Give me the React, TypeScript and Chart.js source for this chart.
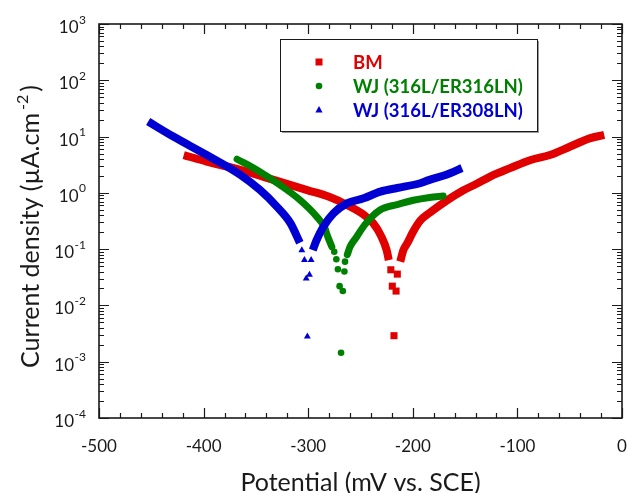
import React, { useEffect, useRef } from 'react';
import { Chart, registerables } from 'chart.js';

Chart.register(...registerables);

// ---------- data (potential in mV vs SCE, current density in µA/cm²) ----------
const seriesNames = ['BM', 'WJ (316L/ER316LN)', 'WJ (316L/ER308LN)'];

const bmCathodic: [number, number][] = [
  [-419, 4.7], [-397, 3.6], [-365, 2.55], [-333, 1.7], [-301, 1.12], [-280, 0.85],
  [-263, 0.61], [-247, 0.41], [-238, 0.29], [-230, 0.167], [-225, 0.096], [-223, 0.064],
];
const bmTip: [number, number][] = [
  [-221, 0.043], [-219.6, 0.022], [-216, 0.018], [-214.8, 0.036], [-218, 0.0029],
];
const bmAnodic: [number, number][] = [
  [-212, 0.06], [-209, 0.096], [-205, 0.13], [-200, 0.2], [-193, 0.32], [-184, 0.44],
  [-168, 0.72], [-152, 1.1], [-139, 1.45], [-126, 1.95], [-107, 2.75], [-88, 3.8],
  [-69, 4.7], [-50, 6.6], [-31, 9.3], [-17, 10.7],
];

const wj316Cathodic: [number, number][] = [
  [-368, 3.96], [-349, 2.55], [-327, 1.38], [-308, 0.75], [-292, 0.38], [-284, 0.235],
  [-282, 0.18], [-277.4, 0.11],
];
const wj316Tip: [number, number][] = [
  [-275.1, 0.09], [-273.1, 0.066], [-271.6, 0.044], [-270, 0.022], [-266.9, 0.018],
  [-265.4, 0.04], [-264.8, 0.06], [-268.6, 0.00144],
];
const wj316Anodic: [number, number][] = [
  [-262.6, 0.08], [-260, 0.11], [-253.6, 0.166], [-246, 0.27], [-231, 0.5], [-215, 0.62],
  [-199.5, 0.74], [-184, 0.83], [-171, 0.88],
];

const wj308Cathodic: [number, number][] = [
  [-453, 18.5], [-429, 10], [-397, 4.7], [-365, 2.1], [-346, 1.12], [-330, 0.57],
  [-317, 0.29], [-308, 0.13],
];
const wj308Tip: [number, number][] = [
  [-306.1, 0.096], [-303.6, 0.064], [-301.9, 0.03], [-298.8, 0.035], [-297.2, 0.064],
  [-300.8, 0.0028],
];
const wj308Anodic: [number, number][] = [
  [-295.6, 0.096], [-292, 0.145], [-285.5, 0.25], [-276, 0.43], [-263, 0.65], [-247, 0.8],
  [-231, 1.05], [-215, 1.22], [-193, 1.48], [-184, 1.7], [-168, 2.1], [-153, 2.76],
];

const xMajorTicks = [-500, -400, -300, -200, -100, 0];
const xMinorStep = 20;
const yExponents = [-4, -3, -2, -1, 0, 1, 2, 3];

const xTitle = 'Potential (mV vs. SCE)';
const yTitleMain = 'Current density (µA.cm';
const yTitleSup = '-2';
const yTitleEnd = ')';

// ---------- styles ----------
const RED = '#e00000';
const GREEN = '#008000';
const BLUE = '#0000d2';
const FONT = 'Lato, "Open Sans", sans-serif';

const toXY = (arr: [number, number][]) => arr.map(([x, y]) => ({ x, y }));

function lineDs(data: [number, number][], color: string, width: number, cap: CanvasLineCap, order: number) {
  return {
    data: toXY(data),
    borderColor: color,
    backgroundColor: color,
    borderWidth: width,
    borderCapStyle: cap,
    borderJoinStyle: 'round' as CanvasLineJoin,
    pointRadius: 0,
    showLine: true,
    cubicInterpolationMode: 'monotone' as const,
    order,
  };
}

function tipDs(data: [number, number][], color: string, style: string, radius: number, order: number) {
  return {
    data: toXY(data),
    borderColor: color,
    backgroundColor: color,
    pointBackgroundColor: color,
    pointBorderWidth: 0,
    pointStyle: style,
    pointRadius: radius,
    showLine: false,
    order,
  };
}

function drawMarker(ctx: CanvasRenderingContext2D, kind: string, x: number, y: number, color: string) {
  ctx.fillStyle = color;
  ctx.beginPath();
  if (kind === 'rect') {
    ctx.rect(x - 3.5, y - 3.5, 7, 7);
  } else if (kind === 'circle') {
    ctx.arc(x, y, 3.3, 0, Math.PI * 2);
  } else {
    ctx.moveTo(x, y - 4);
    ctx.lineTo(x + 3.6, y + 2.6);
    ctx.lineTo(x - 3.6, y + 2.6);
    ctx.closePath();
  }
  ctx.fill();
}

const decorPlugin = {
  id: 'decor',
  afterDatasetsDraw(chart: any) {
    const ctx: CanvasRenderingContext2D = chart.ctx;
    const { left, right, top, bottom } = chart.chartArea;
    const xs = chart.scales.x;
    const ys = chart.scales.y;
    ctx.save();

    // frame
    ctx.strokeStyle = '#1a1a1a';
    ctx.lineWidth = 1.6;
    ctx.strokeRect(left, top, right - left, bottom - top);

    // ticks
    ctx.lineWidth = 1.2;
    ctx.beginPath();
    const xMin = xMajorTicks[0];
    const xMax = xMajorTicks[xMajorTicks.length - 1];
    for (let v = xMin; v <= xMax; v += xMinorStep) {
      const px = Math.round(xs.getPixelForValue(v)) + 0.5;
      const len = xMajorTicks.includes(v) ? 10 : 5;
      ctx.moveTo(px, bottom);
      ctx.lineTo(px, bottom - len);
      ctx.moveTo(px, top);
      ctx.lineTo(px, top + len);
    }
    for (let k = 0; k < yExponents.length; k++) {
      const d = yExponents[k];
      for (let m = 1; m <= 9; m++) {
        if (k === yExponents.length - 1 && m > 1) break;
        const py = Math.round(ys.getPixelForValue(m * Math.pow(10, d))) + 0.5;
        const len = m === 1 ? 10 : 5;
        ctx.moveTo(left, py);
        ctx.lineTo(left + len, py);
        ctx.moveTo(right, py);
        ctx.lineTo(right - len, py);
      }
    }
    ctx.stroke();

    // x tick labels
    ctx.fillStyle = '#1a1a1a';
    ctx.font = `17px ${FONT}`;
    ctx.textAlign = 'center';
    ctx.textBaseline = 'alphabetic';
    xMajorTicks.forEach((v) => {
      ctx.fillText(String(v), xs.getPixelForValue(v), 452);
    });

    // y tick labels: 10^n
    yExponents.forEach((d) => {
      const py = ys.getPixelForValue(Math.pow(10, d));
      ctx.font = `17px ${FONT}`;
      const w1 = ctx.measureText('10').width;
      ctx.font = `12px ${FONT}`;
      const sup = String(d);
      const w2 = ctx.measureText(sup).width;
      const x0 = 86 - (w1 + w2 + 0.5);
      ctx.textAlign = 'left';
      ctx.font = `17px ${FONT}`;
      ctx.fillText('10', x0, py + 9);
      ctx.font = `12px ${FONT}`;
      ctx.fillText(sup, x0 + w1 + 0.5, py - 0.5);
    });

    // x title
    ctx.font = `25px ${FONT}`;
    ctx.textAlign = 'center';
    ctx.fillText(xTitle, (left + right) / 2, 491);

    // y title (rotated)
    ctx.save();
    ctx.translate(38.5, 226.5);
    ctx.rotate(-Math.PI / 2);
    ctx.font = `25px ${FONT}`;
    const wa = ctx.measureText(yTitleMain).width;
    ctx.font = `16px ${FONT}`;
    const wb = ctx.measureText(yTitleSup).width;
    ctx.font = `25px ${FONT}`;
    const wc = ctx.measureText(yTitleEnd).width;
    const gap = 3;
    const total = wa + gap + wb + gap + wc;
    let cx = -total / 2;
    ctx.textAlign = 'left';
    ctx.fillText(yTitleMain, cx, 0);
    cx += wa + gap;
    ctx.font = `16px ${FONT}`;
    ctx.fillText(yTitleSup, cx, -11);
    cx += wb + gap;
    ctx.font = `25px ${FONT}`;
    ctx.fillText(yTitleEnd, cx, 0);
    ctx.restore();

    // legend
    const lx = 280, ly = 39, lw = 257, lh = 92;
    ctx.fillStyle = '#9a9a9a';
    ctx.fillRect(lx + 2, ly + 2, lw, lh);
    ctx.fillStyle = '#ffffff';
    ctx.fillRect(lx, ly, lw, lh);
    ctx.strokeStyle = '#1a1a1a';
    ctx.lineWidth = 1;
    ctx.strokeRect(lx + 0.5, ly + 0.5, lw, lh);
    const colors = [RED, GREEN, BLUE];
    const kinds = ['rect', 'circle', 'triangle'];
    const rows = [62, 86, 110];
    ctx.font = `bold 18.5px ${FONT}`;
    ctx.textAlign = 'left';
    ctx.textBaseline = 'middle';
    seriesNames.forEach((name, i) => {
      drawMarker(ctx, kinds[i], 319, rows[i], colors[i]);
      ctx.fillStyle = colors[i];
      ctx.fillText(name, 353, rows[i] + 1);
    });

    ctx.restore();
  },
};

export default function App() {
  const ref = useRef<HTMLCanvasElement>(null);

  useEffect(() => {
    if (!ref.current) return;
    const chart = new Chart(ref.current, {
      type: 'line',
      data: {
        datasets: [
          lineDs(wj308Cathodic, BLUE, 8, 'butt', 0) as any,
          tipDs(wj308Tip, BLUE, 'triangle', 4, 0) as any,
          lineDs(wj308Anodic, BLUE, 8, 'butt', 0) as any,
          lineDs(wj316Cathodic, GREEN, 7, 'round', 1) as any,
          tipDs(wj316Tip, GREEN, 'circle', 3.3, 1) as any,
          lineDs(wj316Anodic, GREEN, 7, 'round', 1) as any,
          lineDs(bmCathodic, RED, 8, 'butt', 2) as any,
          tipDs(bmTip, RED, 'rect', 5, 2) as any,
          lineDs(bmAnodic, RED, 8, 'butt', 2) as any,
        ],
      },
      options: {
        responsive: false,
        maintainAspectRatio: false,
        animation: false,
        devicePixelRatio: 1,
        layout: { padding: { left: 99, top: 24, right: 6, bottom: 75 } },
        plugins: { legend: { display: false }, tooltip: { enabled: false } },
        scales: {
          x: { type: 'linear', min: -500, max: 0, display: false },
          y: { type: 'logarithmic', min: 1e-4, max: 1e3, display: false },
        },
      },
      plugins: [decorPlugin],
    });
    return () => chart.destroy();
  }, []);

  return (
    <div style={{ position: 'absolute', left: 0, top: 0, width: 628, height: 493, background: '#fff' }}>
      <canvas ref={ref} width={628} height={493} style={{ display: 'block', width: 628, height: 493 }} />
    </div>
  );
}
